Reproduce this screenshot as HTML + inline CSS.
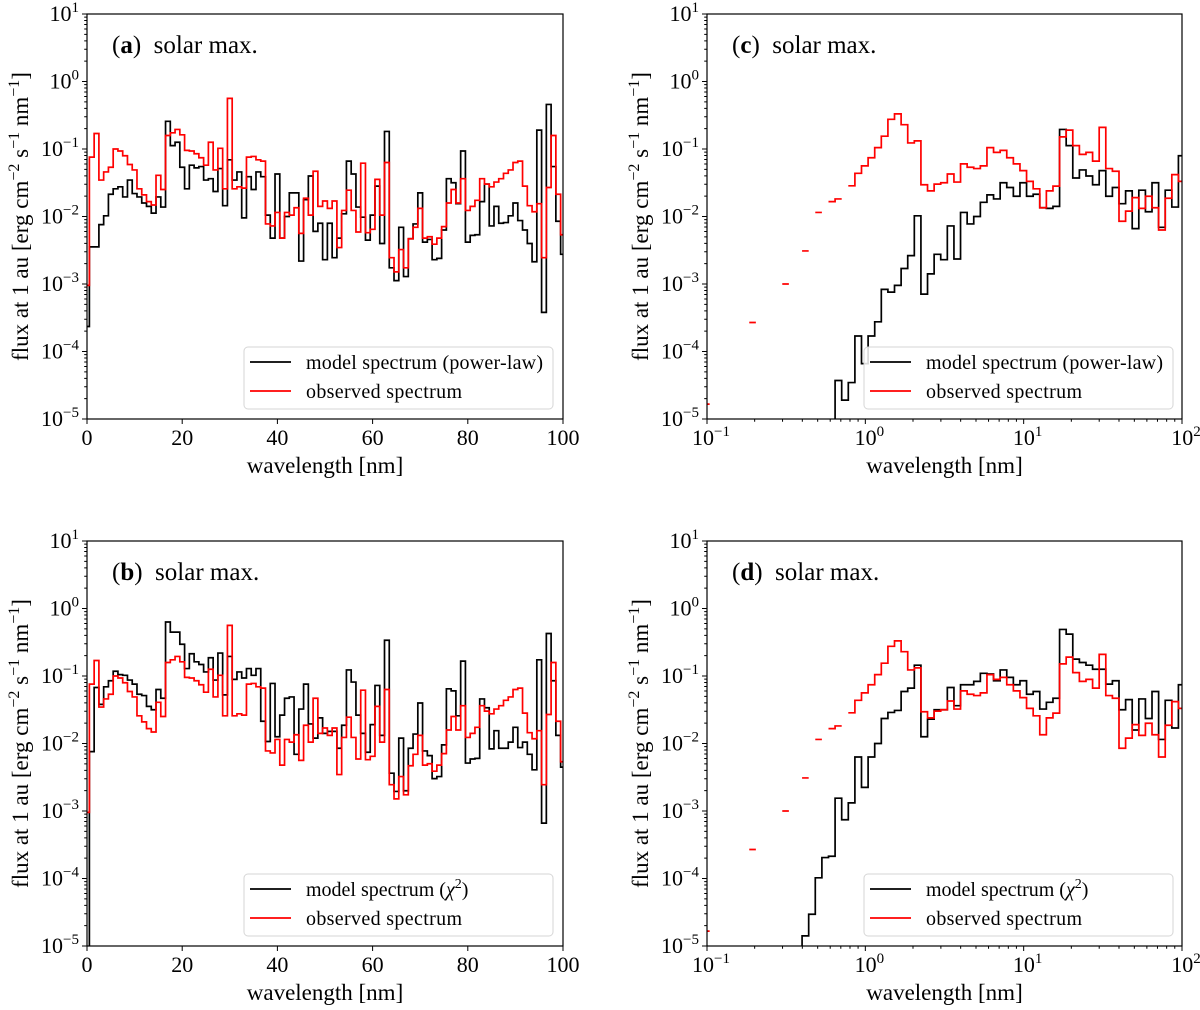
<!DOCTYPE html>
<html><head><meta charset="utf-8">
<style>
html,body{margin:0;background:#fff;overflow:hidden}
svg{display:block;font-family:"Liberation Serif","DejaVu Serif",serif}
</style></head>
<body>
<svg id="fig" xmlns="http://www.w3.org/2000/svg" width="1200" height="1010" viewBox="0 0 1200 1010"></svg>
<script>
// ---------- data (log10 of flux, erg cm^-2 s^-1 nm^-1) ----------
// linear panels: 1-nm bins centred on 0..100 nm
const linStartNm = 0, linStepNm = 1;
const obsLin = [
-3.02,-1.12,-0.77,-1.46,-1.34,-1.27,-1.0,-1.03,-1.10,-1.23,
-1.31,-1.59,-1.68,-1.78,-1.83,-1.39,-1.6,-0.8,-0.76,-0.71,
-0.79,-1.02,-1.03,-1.07,-1.13,-1.24,-0.9,-1.31,-0.99,-1.59,
-0.25,-1.59,-1.56,-1.58,-1.12,-1.11,-1.16,-1.18,-2.11,-2.14,
-1.94,-2.32,-1.94,-1.98,-1.87,-2.25,-1.73,-1.98,-1.33,-1.85,
-1.77,-1.88,-1.77,-2.46,-1.91,-1.61,-1.91,-2.23,-1.21,-2.24,
-2.19,-1.45,-1.98,-1.2,-2.61,-2.82,-2.49,-2.76,-2.33,-2.16,
-1.88,-2.32,-2.3,-2.41,-2.32,-2.15,-1.8,-1.6,-1.8,-1.44,
-1.91,-1.85,-1.76,-1.44,-1.52,-1.56,-1.49,-1.44,-1.36,-1.31,
-1.2,-1.18,-1.55,-1.84,-1.93,-1.81,-2.61,-1.57,-0.8,-1.67,
-2.27];
const powLin = [
-3.63,-2.45,-2.45,-2.12,-1.99,-1.67,-1.59,-1.56,-1.71,-1.46,
-1.66,-1.71,-1.80,-1.85,-1.95,-1.71,-1.86,-0.59,-0.95,-0.9,
-1.27,-1.59,-1.24,-1.28,-1.26,-1.46,-1.44,-1.63,-1.29,-1.84,
-1.16,-1.46,-1.34,-2.02,-1.41,-1.6,-1.34,-1.41,-1.98,-2.32,
-1.37,-2.32,-2.0,-1.65,-1.65,-2.66,-1.75,-1.4,-2.22,-2.1,
-2.64,-2.1,-2.61,-2.32,-1.96,-1.18,-1.37,-1.86,-2.01,-2.35,
-1.98,-1.55,-2.4,-0.74,-2.76,-2.95,-2.16,-2.89,-2.33,-2.11,
-1.65,-2.38,-2.34,-2.64,-2.62,-2.2,-1.44,-1.5,-1.81,-1.03,
-2.38,-2.28,-2.27,-1.78,-1.52,-2.14,-1.85,-2.1,-2.09,-1.99,
-1.8,-2.06,-2.2,-2.4,-2.67,-0.72,-3.42,-0.34,-1.26,-2.07,
-2.56];
const chiLin = [
-5.5,-2.12,-1.17,-1.42,-1.16,-1.07,-0.93,-0.98,-0.99,-1.06,
-1.12,-1.27,-1.29,-1.45,-1.5,-1.2,-1.33,-0.2,-0.35,-0.35,
-0.53,-0.89,-0.67,-0.79,-0.83,-0.94,-0.73,-1.06,-0.66,-1.28,
-0.71,-1.05,-0.94,-1.03,-0.89,-0.99,-0.89,-1.67,-1.97,-1.11,
-1.9,-1.58,-1.33,-1.31,-2.16,-1.49,-1.12,-1.71,-1.92,-1.62,
-1.85,
-1.82,-1.82,-2.07,-1.73,-0.91,-1.09,-1.58,-1.85,-2.13,-1.72,
-1.14,-1.88,-0.47,-2.44,-2.71,-1.92,-2.7,-2.07,-1.86,-1.4,
-2.11,-2.18,-2.52,-2.49,-2.02,-1.19,-1.22,-1.59,-0.78,-2.29,
-2.23,-2.22,-1.34,-1.47,-2.08,-1.81,-2.07,-2.07,-1.98,-1.76,
-2.06,-1.98,-2.16,-2.39,-0.76,-3.18,-0.37,-1.07,-1.88,-2.35];

// log panels: log-spaced bins, start (log10 nm) and width (dex)
const logGridStart = -1.025, logGridStep = 0.0417;
const obsLog = [
-4.78,null,null,null,null,null,null,-3.57,null,null,
null,null,-3.0,null,null,-2.51,null,-1.94,null,-1.78,
-1.74,null,
-1.545,-1.36,-1.25,-1.13,-0.98,-0.81,-0.56,-0.48,-0.64,-0.91,
-0.88,-1.53,-1.62,-1.52,-1.50,-1.37,-1.49,-1.22,-1.27,-1.29,
-1.25,-0.98,-1.05,-1.02,-1.13,-1.22,-1.32,-1.48,-1.59,-1.87,
-1.62,-1.55,-0.82,-0.72,-0.95,-1.08,-1.05,-1.18,-0.68,-1.29,
-1.33,-2.07,-1.92,-1.72,-1.88,-1.70,-1.87,-2.2,-1.73,-1.38,
-1.48];
const powLog = [
null,null,null,null,null,null,null,null,null,null,
null,null,null,null,null,null,null,null,null,null,
-4.43,-4.72,-4.46,-3.77,-4.18,-3.77,-3.56,-3.08,-3.12,-3.02,
-2.77,-2.58,-1.99,-3.15,-2.85,-2.56,-2.64,-2.14,-2.63,-1.94,
-2.11,-2.0,-1.79,-1.68,-1.74,-1.50,-1.57,-1.70,-1.50,-1.70,
-1.67,-1.87,-1.88,-1.85,-0.71,-0.95,-1.43,-1.31,-1.40,-1.53,
-1.32,-1.70,-1.57,-1.81,-1.62,-2.18,-1.61,-1.93,-1.50,-2.16,
-1.61,-1.86,-1.10];
const chiLog = [
null,null,null,null,null,null,null,null,null,null,
null,null,null,null,null,
-4.85,-4.53,-3.99,-3.69,-3.67,-2.81,-3.13,-2.88,-2.2,-2.65,
-2.2,-2.0,-1.63,-1.54,-1.51,-1.23,-1.18,-0.84,-1.9,-1.64,
-1.5,-1.5,-1.17,-1.44,-1.13,-1.13,-1.08,-0.96,-0.97,-1.07,
-0.91,-1.02,-1.13,-1.07,-1.27,-1.23,-1.49,-1.39,-1.33,-0.31,
-0.38,-0.75,-0.80,-0.84,-0.90,-0.90,-1.12,-1.07,-1.5,-1.35,
-1.8,-1.34,-1.63,-1.23,-1.94,-1.36,-1.77,-1.13];

const yTickExps = [1,0,-1,-2,-3,-4,-5];
const linXTicks = [0,20,40,60,80,100];
const logXTickExps = [-1,0,1,2];
const yDomain = [-5, 1];
const linDomain = [0, 100];
const logDomain = [-1, 2];

// ---------- drawing ----------
const NS = 'http://www.w3.org/2000/svg';
const svg = document.getElementById('fig');
function el(tag, parent){ const e=document.createElementNS(NS,tag); parent.appendChild(e); return e; }

const panels = [
 {id:'a', L:87,  R:563,  T:14,  B:419, log:false, model:powLin, obs:obsLin, modelLabel:'pow'},
 {id:'c', L:707, R:1182, T:14,  B:419, log:true,  model:powLog, obs:obsLog, modelLabel:'pow'},
 {id:'b', L:87,  R:563,  T:541, B:946, log:false, model:chiLin, obs:obsLin, modelLabel:'chi'},
 {id:'d', L:707, R:1182, T:541, B:946, log:true,  model:chiLog, obs:obsLog, modelLabel:'chi'}
];

function yScale(p, v){ return p.T + (yDomain[1]-v)/(yDomain[1]-yDomain[0])*(p.B-p.T); }
function xScale(p, nm){
  if(p.log) return p.L + (Math.log10(nm)-logDomain[0])/(logDomain[1]-logDomain[0])*(p.R-p.L);
  return p.L + (nm-linDomain[0])/(linDomain[1]-linDomain[0])*(p.R-p.L);
}
function binEdges(p, k){
  if(p.log){
    let lo=Math.pow(10,logGridStart+k*logGridStep), hi=Math.pow(10,logGridStart+(k+1)*logGridStep);
    lo=Math.max(lo,Math.pow(10,logDomain[0])); hi=Math.min(hi,Math.pow(10,logDomain[1]));
    return [lo,hi];
  }
  const c=linStartNm+k*linStepNm;
  return [Math.max(linDomain[0],c-linStepNm/2), Math.min(linDomain[1],c+linStepNm/2)];
}
function stepPath(p, vals, breakOnNull){
  let d='', open=false;
  for(let k=0;k<vals.length;k++){
    let v=vals[k];
    if(v===null){ if(breakOnNull){open=false;continue;} v=-5.3; }
    v=Math.max(v,-5.3);
    const e=binEdges(p,k);
    const x0=xScale(p,e[0]).toFixed(2), x1=xScale(p,e[1]).toFixed(2), y=yScale(p,v).toFixed(2);
    if(!open){ d+='M'+x0+','+y; open=true; } else { d+='V'+y; }
    d+='H'+x1;
  }
  return d;
}
function supText(t, base, sup){
  const a=el('tspan',t); a.textContent=base;
  const b=el('tspan',t); b.setAttribute('dy','-9'); b.setAttribute('font-size','15'); b.textContent=sup;
}

const defs = el('defs', svg);
panels.forEach(p=>{
  const g = el('g', svg);
  
  

  const cp = el('clipPath', defs); cp.setAttribute('id','clip-'+p.id);
  const cr = el('rect', cp);
  cr.setAttribute('x',p.L); cr.setAttribute('y',p.T); cr.setAttribute('width',p.R-p.L); cr.setAttribute('height',p.B-p.T);

  const sg = el('g', g); sg.setAttribute('clip-path','url(#clip-'+p.id+')');
  
  
  const mPath = el('path', sg);
  mPath.setAttribute('d', stepPath(p, p.model, false));
  mPath.setAttribute('fill','none'); mPath.setAttribute('stroke','#000'); mPath.setAttribute('stroke-width','1.7');
  
  
  const oPath = el('path', sg);
  oPath.setAttribute('d', stepPath(p, p.obs, true));
  oPath.setAttribute('fill','none'); oPath.setAttribute('stroke','#ff0000'); oPath.setAttribute('stroke-width','1.7');
  
  

  const fr = el('rect', g);
  fr.setAttribute('x',p.L); fr.setAttribute('y',p.T); fr.setAttribute('width',p.R-p.L); fr.setAttribute('height',p.B-p.T);
  fr.setAttribute('fill','none'); fr.setAttribute('stroke','#000'); fr.setAttribute('stroke-width','1.2');
  
  

  let tk='';
  yTickExps.forEach(e=>{
    const y=yScale(p,e); tk+='M'+p.L+','+y+'h-5';
    if(e>yDomain[0]) for(let m=2;m<10;m++){ const ym=yScale(p,e-1+Math.log10(m)); tk+='M'+p.L+','+ym.toFixed(2)+'h-2.8'; }
    const t = el('text', g);
    t.setAttribute('x',p.L-8); t.setAttribute('y',y+7); t.setAttribute('text-anchor','end'); t.setAttribute('font-size','22');
    
    
    supText(t,'10', String(e).replace('-','\u2212'));
  });
  if(p.log){
    logXTickExps.forEach(e=>{
      const x=xScale(p,Math.pow(10,e)); tk+='M'+x+','+p.B+'v5';
      if(e<logDomain[1]) for(let m=2;m<10;m++){ const xm=xScale(p,m*Math.pow(10,e)); tk+='M'+xm.toFixed(2)+','+p.B+'v2.8'; }
      const t = el('text', g);
      t.setAttribute('x',x+4); t.setAttribute('y',p.B+26); t.setAttribute('text-anchor','middle'); t.setAttribute('font-size','22');
      
      
      supText(t,'10', String(e).replace('-','\u2212'));
    });
  } else {
    linXTicks.forEach(v=>{
      const x=xScale(p,v); tk+='M'+x+','+p.B+'v5';
      const t = el('text', g);
      t.setAttribute('x',x); t.setAttribute('y',p.B+26); t.setAttribute('text-anchor','middle'); t.setAttribute('font-size','22');
      
      
      t.textContent=String(v);
    });
  }
  const tp = el('path', g); tp.setAttribute('d',tk); tp.setAttribute('stroke','#000'); tp.setAttribute('stroke-width','1');
  
  

  const xt = el('text', g);
  xt.setAttribute('x',(p.L+p.R)/2); xt.setAttribute('y',p.B+54); xt.setAttribute('text-anchor','middle'); xt.setAttribute('font-size','23');
  
  
  xt.textContent='wavelength [nm]';

  const yt = el('text', g);
  yt.setAttribute('transform','translate('+(p.L-59)+','+((p.T+p.B)/2)+') rotate(-90)');
  yt.setAttribute('text-anchor','middle'); yt.setAttribute('font-size','23');
  
  
  const parts=[['flux at 1 au [erg cm',0],['\u22122',1],[' s',0],['\u22121',1],[' nm',0],['\u22121',1],[']',0]];
  let prevSup=0;
  parts.forEach(pt=>{
    const s=el('tspan',yt); s.textContent=pt[0];
    if(pt[1]){ s.setAttribute('dy','-9'); s.setAttribute('font-size','16'); }
    else if(prevSup){ s.setAttribute('dy','9'); }
    prevSup=pt[1];
  });

  const pl = el('text', g);
  pl.setAttribute('x',p.L+25); pl.setAttribute('y',p.T+39); pl.setAttribute('font-size','25');
  
  
  const p1=el('tspan',pl); p1.textContent='(';
  const p2=el('tspan',pl); p2.setAttribute('font-weight','bold'); p2.textContent=p.id;
  const p3=el('tspan',pl); p3.textContent=')\u00a0\u00a0solar max.';

  const lg = el('g', g);
  
  
  const lb = el('rect', lg);
  lb.setAttribute('x',p.L+157); lb.setAttribute('y',p.B-72); lb.setAttribute('width',309); lb.setAttribute('height',62);
  lb.setAttribute('rx',4); lb.setAttribute('fill','#fff'); lb.setAttribute('fill-opacity','0.85'); lb.setAttribute('stroke','#d6d6d6'); lb.setAttribute('stroke-width','1');
  
  
  [['#000',p.B-57,'model'],['#ff0000',p.B-28,'obs']].forEach(en=>{
    const ln = el('line', lg);
    ln.setAttribute('x1',p.L+163); ln.setAttribute('x2',p.L+204); ln.setAttribute('y1',en[1]); ln.setAttribute('y2',en[1]);
    ln.setAttribute('stroke',en[0]); ln.setAttribute('stroke-width','1.8');
    
    
    const tx = el('text', lg);
    tx.setAttribute('x',p.L+219); tx.setAttribute('y',en[1]+7); tx.setAttribute('font-size','20');
    
    
    if(en[2]==='obs'){ tx.textContent='observed spectrum'; tx.setAttribute('textLength','156'); }
    else if(p.modelLabel==='pow'){ tx.textContent='model spectrum (power-law)'; tx.setAttribute('textLength','237'); }
    else {
      const a=el('tspan',tx); a.textContent='model spectrum (';
      const b=el('tspan',tx); b.setAttribute('font-style','italic'); b.textContent='\u03c7';
      const c=el('tspan',tx); c.setAttribute('dy','-8'); c.setAttribute('font-size','14'); c.textContent='2';
      const d=el('tspan',tx); d.setAttribute('dy','8'); d.textContent=')';
    }
  });
});
</script>
</body></html>
